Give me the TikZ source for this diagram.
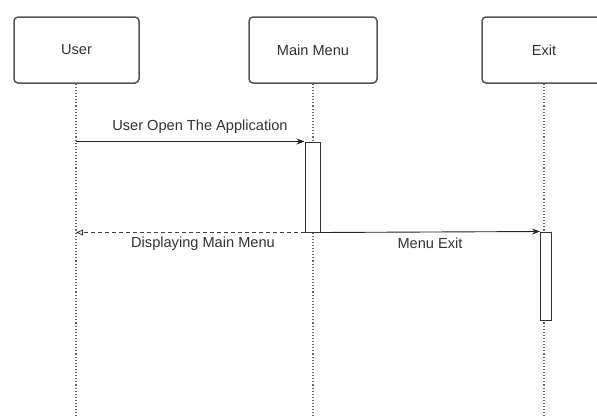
\documentclass[tikz,border=0pt]{standalone}
\usepackage{fontspec}
\setmainfont{Liberation Sans}
\usetikzlibrary{arrows.meta}
\definecolor{boxline}{HTML}{555555}
\definecolor{lifegray}{HTML}{666666}
\tikzset{
  actor/.style={draw=boxline, line width=1.5pt, rounded corners=4pt, fill=white,
    minimum height=66pt, inner sep=0pt},
  lifeline/.style={draw=lifegray, line width=1.1pt, dotted},
  activation/.style={draw=black!80, line width=1pt, fill=white, inner sep=0pt, minimum width=14pt},
  msg/.style={draw=black!85, line width=0.9pt, -{Stealth[length=8pt,width=6pt]}},
  reply/.style={draw=black!75, line width=0.9pt, dashed, dash pattern=on 4pt off 3pt,
    -{Triangle[open,length=7pt,width=6pt]}},
  msglabel/.style={font=\fontsize{14.6}{16}\selectfont, text=black!80, inner sep=1pt},
  actorlabel/.style={font=\fontsize{14.6}{16}\selectfont, text=black!80}
}
\begin{document}
\begin{tikzpicture}[x=1pt,y=-1pt]
\clip (0,0) rectangle (597,415);
\fill[white] (0,0) rectangle (597,415);

% participants
\node[actor, minimum width=125pt, actorlabel] (user) at (76.5,50) {User};
\node[actor, minimum width=128pt, actorlabel] (main) at (313,50) {Main Menu};
\node[actor, minimum width=124pt, actorlabel] (exit) at (544,50) {Exit};

% lifeline ends
\coordinate (userEnd) at (76,416);
\coordinate (mainEnd) at (313,416);
\coordinate (exitEnd) at (544,416);
\draw[lifeline] (user.south -| 76,0) -- (userEnd);
\draw[lifeline] (main.south) -- (mainEnd);
\draw[lifeline] (exit.south) -- (exitEnd);

% activation bars
\node[activation, minimum width=15pt, minimum height=90pt] (actMain) at (312.5,187) {};
\node[activation, minimum width=11pt, minimum height=88pt] (actExit) at (546,276) {};

% messages
\draw[msg] (userEnd |- actMain.north) -- (actMain.north west);
\node[msglabel] (m1) at (200,127) {User Open The Application};

\draw[reply] (actMain.south west) -- (userEnd |- actMain.south);
\node[msglabel] (m2) at (203,244) {Displaying Main Menu};

\draw[msg] (actMain.south east) -- (actExit.north west);
\node[msglabel] (m3) at (430,243) {Menu Exit};
\end{tikzpicture}
\end{document}
